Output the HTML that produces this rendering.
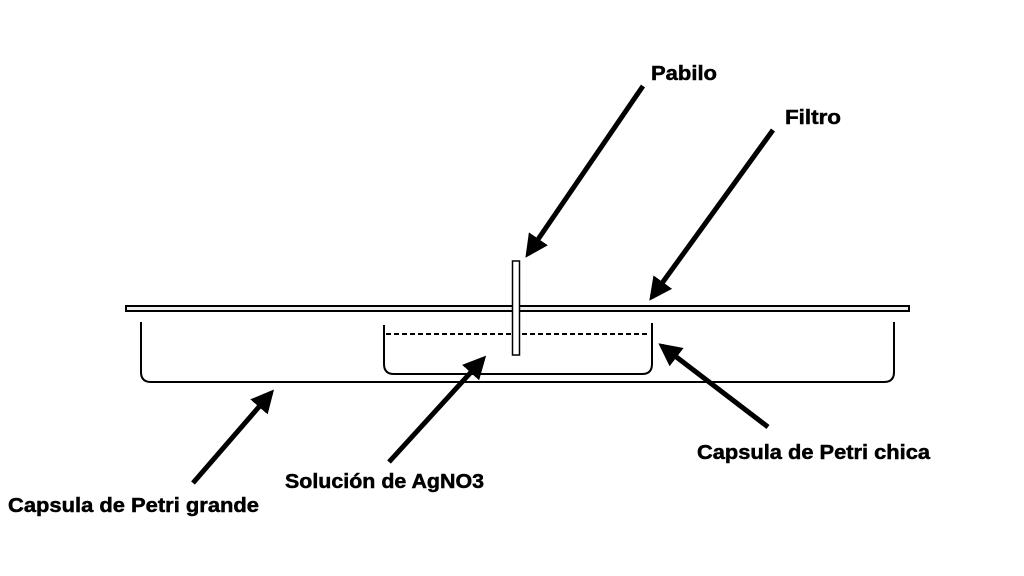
<!DOCTYPE html>
<html><head><meta charset="utf-8"><style>
html,body{margin:0;padding:0;background:#fff;}
svg{display:block}
text{font-family:"Liberation Sans",sans-serif;font-weight:bold;font-size:20px;fill:#000;stroke:#000;stroke-width:0.5}
</style></head><body>
<svg width="1024" height="576" viewBox="0 0 1024 576" xmlns="http://www.w3.org/2000/svg">
<defs>
<marker id="ah" viewBox="0 0 10 10" refX="8" refY="5" markerWidth="4.6" markerHeight="4.6" orient="auto" markerUnits="strokeWidth">
<path d="M0,0 L10,5 L0,10 z" fill="#000"/>
</marker>
</defs>
<path d="M141,322 V372 Q141,382 151,382 H884 Q894,382 894,372 V322" fill="none" stroke="#000" stroke-width="2"/>
<path d="M384,325 V364 Q384,374 394,374 H642 Q652,374 652,364 V323" fill="none" stroke="#000" stroke-width="2"/>
<line x1="386" y1="334" x2="650" y2="334" stroke="#000" stroke-width="2" stroke-dasharray="5,3"/>
<rect x="126" y="306" width="783" height="5" fill="#eee" stroke="#000" stroke-width="2"/>
<rect x="512.5" y="261" width="7" height="94" fill="#fff" stroke="#000" stroke-width="1.5"/>
<g stroke="#000" stroke-width="5" marker-end="url(#ah)">
<line x1="643" y1="86" x2="528" y2="254"/>
<line x1="773" y1="130" x2="652" y2="297"/>
<line x1="389" y1="462" x2="483" y2="359"/>
<line x1="768" y1="427" x2="662" y2="346"/>
<line x1="193" y1="483" x2="271" y2="393"/>
</g>
<text x="651" y="80" textLength="66" lengthAdjust="spacingAndGlyphs">Pabilo</text>
<text x="785" y="124" textLength="56" lengthAdjust="spacingAndGlyphs">Filtro</text>
<text x="697" y="459" textLength="233" lengthAdjust="spacingAndGlyphs">Capsula de Petri chica</text>
<text x="285" y="488" textLength="199" lengthAdjust="spacingAndGlyphs">Solución de AgNO3</text>
<text x="8" y="512" textLength="251" lengthAdjust="spacingAndGlyphs">Capsula de Petri grande</text>
</svg>
</body></html>
